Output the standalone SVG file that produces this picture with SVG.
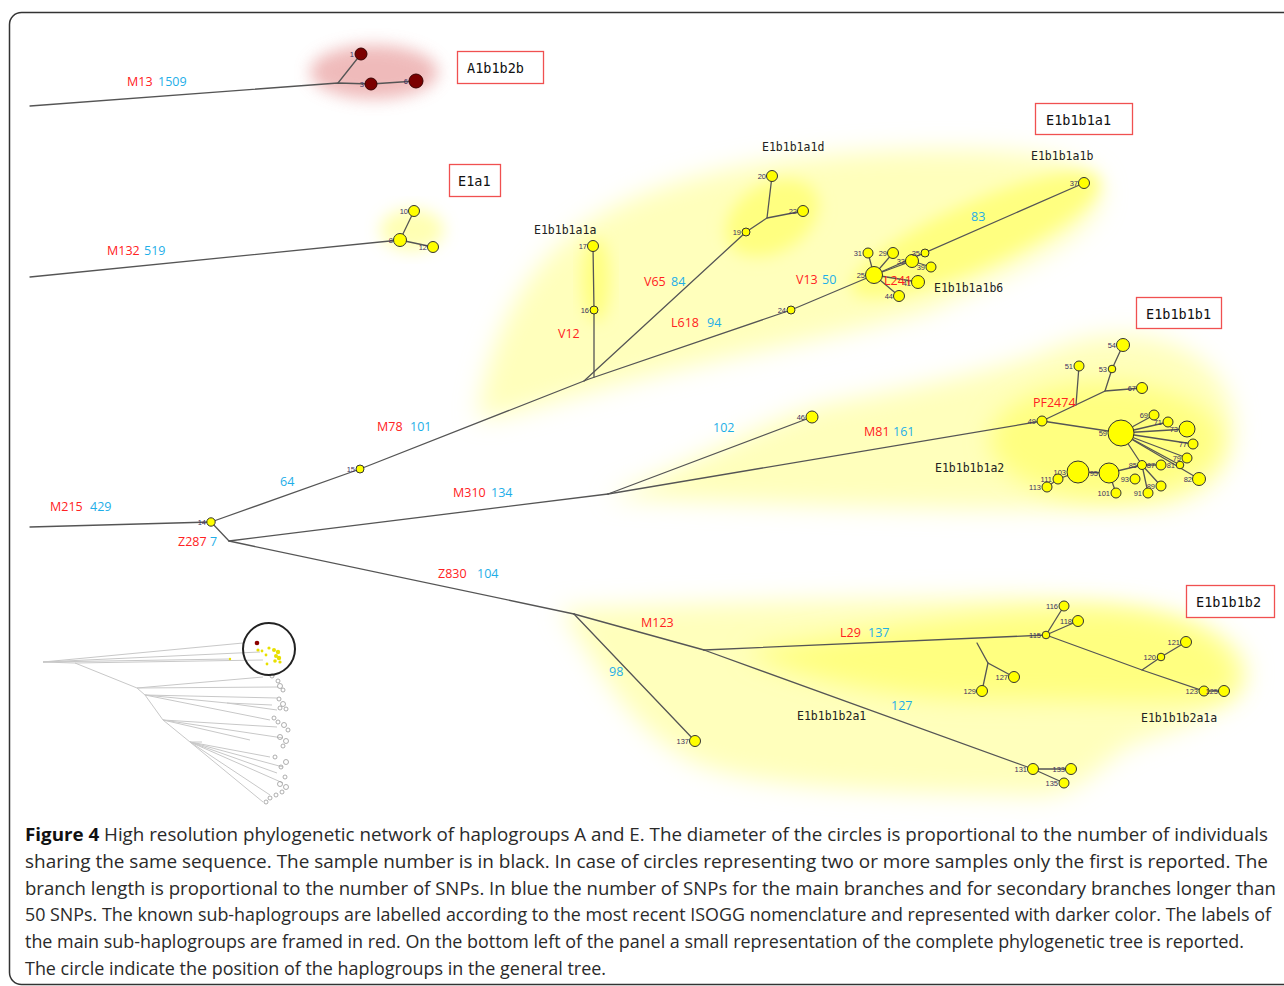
<svg xmlns="http://www.w3.org/2000/svg" width="1284" height="986" viewBox="0 0 1284 986">
  <style>
    .br { stroke: #555; stroke-width: 1.3; fill: none; stroke-linecap: round; }
    .nd { fill: #ffff00; stroke: #333; stroke-width: 1; }
    .nr { fill: #7b0000; stroke: #3a0000; stroke-width: 1; }
    .num { font-family: "Liberation Sans", Arial, sans-serif; font-size: 7.5px; fill: #3d3060; text-anchor: end; }
    .mk { font-family: "Open Sans", "Liberation Sans", sans-serif; font-size: 12.5px; fill: #ff2222; }
    .cnt { font-family: "Open Sans", "Liberation Sans", sans-serif; font-size: 12.5px; fill: #1eaee8; }
    .hg { font-family: "DejaVu Sans Mono", "Liberation Mono", monospace; font-size: 11.5px; fill: #222; }
    .box rect { fill: #fff; stroke: #f05050; stroke-width: 1.3; }
    .box text { font-family: "DejaVu Sans Mono", "Liberation Mono", monospace; font-size: 13.5px; fill: #111; }
    .cap { font-family: "Open Sans", "Liberation Sans", sans-serif; font-size: 18px; fill: #2a2a2a; }
    .thumb { stroke: #c8c8c8; stroke-width: 1; fill: none; }
    .tc { fill: none; stroke: #9a9a9a; stroke-width: 0.8; }
  </style>
  <defs>
    <filter id="haze" x="-30%" y="-30%" width="160%" height="160%">
      <feGaussianBlur stdDeviation="12"/>
    </filter>
    <filter id="hazeSoft" x="-30%" y="-30%" width="160%" height="160%">
      <feGaussianBlur stdDeviation="8"/>
    </filter>
  </defs>

  <rect width="1284" height="986" fill="#fff"/>
  <!-- panel frame -->
  <rect x="9.5" y="12.5" width="1300" height="972" rx="12" fill="none" stroke="#333" stroke-width="1.5"/>

  <!-- shaded haplogroup areas -->
  <g id="areas">
    <ellipse cx="374" cy="72" rx="64" ry="27" fill="#eaa4a4" opacity="0.75" filter="url(#hazeSoft)"/>
    <ellipse cx="412" cy="230" rx="32" ry="21" fill="#ffffa0" opacity="0.8" filter="url(#hazeSoft)"/>

    <path d="M478,418 C490,330 530,255 600,215 C680,170 800,150 950,150 C1060,150 1110,168 1100,200 C1090,240 1010,272 930,310 C850,335 700,360 590,392 C540,405 500,418 478,418 Z" fill="#ffffbc" filter="url(#haze)"/>
    <ellipse cx="596" cy="280" rx="14" ry="42" fill="#ffff80" filter="url(#hazeSoft)"/>
    <ellipse cx="772" cy="218" rx="50" ry="34" transform="rotate(-30 772 218)" fill="#ffff80" filter="url(#hazeSoft)"/>
    <ellipse cx="975" cy="235" rx="135" ry="32" transform="rotate(-24 975 235)" fill="#ffff80" filter="url(#hazeSoft)"/>

    <path d="M608,497 C700,462 760,422 822,405 C900,390 1000,372 1060,346 C1130,322 1200,340 1225,390 C1245,440 1232,500 1150,508 C1000,512 800,506 608,497 Z" fill="#ffffbc" filter="url(#haze)"/>
    <ellipse cx="1105" cy="440" rx="115" ry="58" fill="#ffff80" filter="url(#haze)"/>

    <path d="M560,610 C650,605 800,600 950,598 C1100,594 1220,610 1245,660 C1260,700 1200,722 1130,745 C1090,770 1080,800 1020,795 C900,792 750,790 690,760 C620,722 592,652 560,610 Z" fill="#ffffbc" filter="url(#haze)"/>
    <path d="M745,652 C850,632 1000,608 1100,610 C1200,614 1240,650 1235,688 C1222,708 1100,700 1000,700 C900,700 800,680 745,652 Z" fill="#ffff80" filter="url(#haze)"/>
  </g>

  <!-- branches -->
  <g id="connectors">
    <!-- A1b1b2b -->
    <polyline class="br" points="30,106 338,83 371,84 416,81"/>
    <line class="br" x1="338" y1="83" x2="361" y2="54"/>
    <!-- E1a1 -->
    <line class="br" x1="30" y1="277" x2="400" y2="240"/>
    <line class="br" x1="400" y1="240" x2="414" y2="211"/>
    <line class="br" x1="400" y1="240" x2="433" y2="247"/>
    <!-- trunk -->
    <line class="br" x1="30" y1="527" x2="211" y2="522"/>
    <polyline class="br" points="211,522 360,469 589,379 791,310 874,275"/>
    <line class="br" x1="211" y1="522" x2="229" y2="541"/>
    <!-- V12 / V65 -->
    <polyline class="br" points="594,377 594,310 593,246"/>
    <line class="br" x1="584" y1="381" x2="746" y2="232"/>
    <polyline class="br" points="746,232 767,218 772,176"/>
    <line class="br" x1="767" y1="218" x2="803" y2="211"/>
    <!-- node 25 star -->
    <line class="br" x1="874" y1="275" x2="1084" y2="183"/>
    <line class="br" x1="874" y1="275" x2="868" y2="253"/>
    <line class="br" x1="874" y1="275" x2="893" y2="253"/>
    <line class="br" x1="874" y1="275" x2="912" y2="261"/>
    <line class="br" x1="912" y1="261" x2="931" y2="267"/>
    <line class="br" x1="874" y1="275" x2="918" y2="282"/>
    <line class="br" x1="874" y1="275" x2="899" y2="296"/>
    <!-- M310 / M81 -->
    <line class="br" x1="229" y1="541" x2="608" y2="494"/>
    <line class="br" x1="608" y1="494" x2="812" y2="417"/>
    <line class="br" x1="608" y1="494" x2="1042" y2="421"/>
    <line class="br" x1="1042" y1="421" x2="1121" y2="433"/>
    <polyline class="br" points="1042,421 1105,391 1112,369 1123,345"/>
    <line class="br" x1="1105" y1="391" x2="1142" y2="388"/>
    <line class="br" x1="1076" y1="405" x2="1079" y2="366"/>
    <line class="br" x1="1121" y1="433" x2="1154" y2="415"/>
    <line class="br" x1="1121" y1="433" x2="1168" y2="422"/>
    <line class="br" x1="1121" y1="433" x2="1187" y2="429"/>
    <line class="br" x1="1121" y1="433" x2="1193" y2="444"/>
    <line class="br" x1="1121" y1="433" x2="1187" y2="458"/>
    <line class="br" x1="1121" y1="433" x2="1180" y2="465"/>
    <line class="br" x1="1121" y1="433" x2="1199" y2="479"/>
    <line class="br" x1="1121" y1="433" x2="1142" y2="465"/>
    <line class="br" x1="1142" y1="465" x2="1161" y2="465"/>
    <line class="br" x1="1142" y1="465" x2="1161" y2="486"/>
    <line class="br" x1="1142" y1="465" x2="1148" y2="493"/>
    <polyline class="br" points="1142,465 1109,473 1078,472 1058,479 1047,487"/>
    <line class="br" x1="1109" y1="473" x2="1116" y2="493"/>
    <!-- Z830 / M123 -->
    <line class="br" x1="229" y1="541" x2="574" y2="614"/>
    <line class="br" x1="574" y1="614" x2="695" y2="741"/>
    <line class="br" x1="574" y1="614" x2="704" y2="650"/>
    <line class="br" x1="704" y1="650" x2="1046" y2="635"/>
    <line class="br" x1="704" y1="650" x2="1033" y2="769"/>
    <line class="br" x1="1033" y1="769" x2="1071" y2="769"/>
    <line class="br" x1="1033" y1="769" x2="1064" y2="783"/>
    <polyline class="br" points="977,643 988,663 1014,677"/>
    <line class="br" x1="988" y1="663" x2="982" y2="691"/>
    <line class="br" x1="1046" y1="635" x2="1064" y2="606"/>
    <line class="br" x1="1046" y1="635" x2="1078" y2="621"/>
    <polyline class="br" points="1046,635 1142,670 1204,691 1224,691"/>
    <polyline class="br" points="1142,670 1161,657 1186,642"/>
  </g>

  <!-- haplotype nodes -->
  <g id="nodes-A">
    <g id="n1"><circle class="nr" cx="361" cy="54" r="6"/><text class="num" x="354" y="57">1</text></g>
    <g id="n3"><circle class="nr" cx="371" cy="84" r="6"/><text class="num" x="364" y="87">3</text></g>
    <g id="n6"><circle class="nr" cx="416" cy="81" r="7"/><text class="num" x="408" y="84">6</text></g>
  </g>
  <g id="nodes-E1a1">
    <g id="n8"><circle class="nd" cx="400" cy="240" r="6.5"/><text class="num" x="393" y="243">8</text></g>
    <g id="n10"><circle class="nd" cx="414" cy="211" r="5.5"/><text class="num" x="408" y="214">10</text></g>
    <g id="n12"><circle class="nd" cx="433" cy="247" r="5.5"/><text class="num" x="427" y="250">12</text></g>
  </g>
  <g id="nodes-E1b1b1a">
    <g id="n14"><circle class="nd" cx="211" cy="522" r="4.2"/><text class="num" x="206" y="525">14</text></g>
    <g id="n15"><circle class="nd" cx="360" cy="469" r="4"/><text class="num" x="355" y="472">15</text></g>
    <g id="n16"><circle class="nd" cx="594" cy="310" r="4"/><text class="num" x="589" y="313">16</text></g>
    <g id="n17"><circle class="nd" cx="593" cy="246" r="5.5"/><text class="num" x="587" y="249">17</text></g>
    <g id="n19"><circle class="nd" cx="746" cy="232" r="4"/><text class="num" x="741" y="235">19</text></g>
    <g id="n20"><circle class="nd" cx="772" cy="176" r="5.5"/><text class="num" x="766" y="179">20</text></g>
    <g id="n22"><circle class="nd" cx="803" cy="211" r="5.5"/><text class="num" x="797" y="214">22</text></g>
    <g id="n24"><circle class="nd" cx="791" cy="310" r="4"/><text class="num" x="786" y="313">24</text></g>
    <g id="n31"><circle class="nd" cx="868" cy="253" r="5"/><text class="num" x="862" y="256">31</text></g>
    <g id="n29"><circle class="nd" cx="893" cy="253" r="5.5"/><text class="num" x="887" y="256">29</text></g>
    <g id="n25"><circle class="nd" cx="874" cy="275" r="8.5"/><text class="num" x="865" y="278">25</text></g>
    <g id="n33"><circle class="nd" cx="912" cy="261" r="6.5"/><text class="num" x="905" y="264">33</text></g>
    <g id="n35"><circle class="nd" cx="925" cy="253" r="4"/><text class="num" x="920" y="256">35</text></g>
    <g id="n39"><circle class="nd" cx="931" cy="267" r="5"/><text class="num" x="925" y="270">39</text></g>
    <g id="n41"><text class="num" x="911" y="286">41</text><circle class="nd" cx="918" cy="282" r="6.5"/></g>
    <g id="n44"><circle class="nd" cx="899" cy="296" r="5.5"/><text class="num" x="893" y="299">44</text></g>
    <g id="n37"><circle class="nd" cx="1084" cy="183" r="5.5"/><text class="num" x="1078" y="186">37</text></g>
  </g>
  <g id="nodes-E1b1b1b1">
    <g id="n46"><circle class="nd" cx="812" cy="417" r="6"/><text class="num" x="805" y="420">46</text></g>
    <g id="n49"><circle class="nd" cx="1042" cy="421" r="5"/><text class="num" x="1036" y="424">49</text></g>
    <g id="n51"><circle class="nd" cx="1079" cy="366" r="5"/><text class="num" x="1073" y="369">51</text></g>
    <g id="n53"><circle class="nd" cx="1112" cy="369" r="3.8"/><text class="num" x="1107" y="372">53</text></g>
    <g id="n54"><circle class="nd" cx="1123" cy="345" r="6.5"/><text class="num" x="1116" y="348">54</text></g>
    <g id="n67"><circle class="nd" cx="1142" cy="388" r="5.5"/><text class="num" x="1136" y="391">67</text></g>
    <g id="n59"><circle class="nd" cx="1121" cy="433" r="13"/><text class="num" x="1107" y="436">59</text></g>
    <g id="n69"><circle class="nd" cx="1154" cy="415" r="5"/><text class="num" x="1148" y="418">69</text></g>
    <g id="n71"><circle class="nd" cx="1168" cy="422" r="5"/><text class="num" x="1162" y="425">71</text></g>
    <g id="n73"><circle class="nd" cx="1187" cy="429" r="8"/><text class="num" x="1178" y="432">73</text></g>
    <g id="n77"><circle class="nd" cx="1193" cy="444" r="5"/><text class="num" x="1187" y="447">77</text></g>
    <g id="n79"><circle class="nd" cx="1187" cy="458" r="5"/><text class="num" x="1181" y="461">79</text></g>
    <g id="n81"><circle class="nd" cx="1180" cy="465" r="3.8"/><text class="num" x="1175" y="468">81</text></g>
    <g id="n82"><circle class="nd" cx="1199" cy="479" r="6.5"/><text class="num" x="1192" y="482">82</text></g>
    <g id="n85"><circle class="nd" cx="1142" cy="465" r="4.5"/><text class="num" x="1137" y="468">85</text></g>
    <g id="n87"><circle class="nd" cx="1161" cy="465" r="5"/><text class="num" x="1155" y="468">87</text></g>
    <g id="n89"><circle class="nd" cx="1161" cy="486" r="5"/><text class="num" x="1155" y="489">89</text></g>
    <g id="n91"><circle class="nd" cx="1148" cy="493" r="5"/><text class="num" x="1142" y="496">91</text></g>
    <g id="n93"><circle class="nd" cx="1135" cy="479" r="5"/><text class="num" x="1129" y="482">93</text></g>
    <g id="n95"><circle class="nd" cx="1109" cy="473" r="10"/><text class="num" x="1098" y="476">95</text></g>
    <g id="n101"><circle class="nd" cx="1116" cy="493" r="5"/><text class="num" x="1110" y="496">101</text></g>
    <g id="n103"><circle class="nd" cx="1078" cy="472" r="11"/><text class="num" x="1066" y="475">103</text></g>
    <g id="n111"><circle class="nd" cx="1058" cy="479" r="5"/><text class="num" x="1052" y="482">111</text></g>
    <g id="n113"><circle class="nd" cx="1047" cy="487" r="5"/><text class="num" x="1041" y="490">113</text></g>
  </g>
  <g id="nodes-E1b1b1b2">
    <g id="n137"><circle class="nd" cx="695" cy="741" r="5.5"/><text class="num" x="689" y="744">137</text></g>
    <g id="n115"><circle class="nd" cx="1046" cy="635" r="3.8"/><text class="num" x="1041" y="638">115</text></g>
    <g id="n116"><circle class="nd" cx="1064" cy="606" r="5"/><text class="num" x="1058" y="609">116</text></g>
    <g id="n118"><circle class="nd" cx="1078" cy="621" r="5.5"/><text class="num" x="1072" y="624">118</text></g>
    <g id="n127"><circle class="nd" cx="1014" cy="677" r="5.5"/><text class="num" x="1008" y="680">127</text></g>
    <g id="n129"><circle class="nd" cx="982" cy="691" r="5.5"/><text class="num" x="976" y="694">129</text></g>
    <g id="n120"><circle class="nd" cx="1161" cy="657" r="3.8"/><text class="num" x="1156" y="660">120</text></g>
    <g id="n121"><circle class="nd" cx="1186" cy="642" r="5.5"/><text class="num" x="1180" y="645">121</text></g>
    <g id="n123"><circle class="nd" cx="1204" cy="691" r="5"/><text class="num" x="1198" y="694">123</text></g>
    <g id="n125"><circle class="nd" cx="1224" cy="691" r="5.5"/><text class="num" x="1218" y="694">125</text></g>
    <g id="n131"><circle class="nd" cx="1033" cy="769" r="5.5"/><text class="num" x="1027" y="772">131</text></g>
    <g id="n133"><circle class="nd" cx="1071" cy="769" r="5.5"/><text class="num" x="1065" y="772">133</text></g>
    <g id="n135"><circle class="nd" cx="1064" cy="783" r="5"/><text class="num" x="1058" y="786">135</text></g>
  </g>

  <!-- branch markers (red) and SNP counts (blue) -->
  <g id="branch-labels">
    <text class="mk" x="127" y="86">M13</text><text class="cnt" x="158" y="86">1509</text>
    <text class="mk" x="107" y="255">M132</text><text class="cnt" x="144" y="255">519</text>
    <text class="mk" x="50" y="511">M215</text><text class="cnt" x="90" y="511">429</text>
    <text class="mk" x="178" y="546">Z287</text><text class="cnt" x="210" y="546">7</text>
    <text class="cnt" x="280" y="486">64</text>
    <text class="mk" x="377" y="431">M78</text><text class="cnt" x="410" y="431">101</text>
    <text class="mk" x="453" y="497">M310</text><text class="cnt" x="491" y="497">134</text>
    <text class="mk" x="558" y="338">V12</text>
    <text class="mk" x="644" y="286">V65</text><text class="cnt" x="671" y="286">84</text>
    <text class="mk" x="671" y="327">L618</text><text class="cnt" x="707" y="327">94</text>
    <text class="mk" x="796" y="284">V13</text><text class="cnt" x="822" y="284">50</text>
    <text class="cnt" x="971" y="221">83</text>
    <text class="mk" x="884" y="285">L241</text>
    <text class="mk" x="1033" y="407">PF2474</text>
    <text class="cnt" x="713" y="432">102</text>
    <text class="mk" x="864" y="436">M81</text><text class="cnt" x="893" y="436">161</text>
    <text class="mk" x="438" y="578">Z830</text><text class="cnt" x="477" y="578">104</text>
    <text class="mk" x="641" y="627">M123</text>
    <text class="mk" x="840" y="637">L29</text><text class="cnt" x="868" y="637">137</text>
    <text class="cnt" x="609" y="676">98</text>
    <text class="cnt" x="891" y="710">127</text>
  </g>

  <!-- sub-haplogroup names -->
  <g id="subgroup-labels">
    <text class="hg" x="762" y="151">E1b1b1a1d</text>
    <text class="hg" x="534" y="234">E1b1b1a1a</text>
    <text class="hg" x="1031" y="160">E1b1b1a1b</text>
    <text class="hg" x="934" y="292">E1b1b1a1b6</text>
    <text class="hg" x="935" y="472">E1b1b1b1a2</text>
    <text class="hg" x="797" y="720">E1b1b1b2a1</text>
    <text class="hg" x="1141" y="722">E1b1b1b2a1a</text>
  </g>

  <!-- framed main sub-haplogroups -->
  <g id="box-A1b1b2b" class="box"><rect x="457.5" y="51.5" width="86" height="32"/><text x="467" y="73">A1b1b2b</text></g>
  <g id="box-E1a1" class="box"><rect x="449.5" y="164.5" width="51" height="32"/><text x="458" y="186">E1a1</text></g>
  <g id="box-E1b1b1a1" class="box"><rect x="1035.5" y="103.5" width="97" height="31"/><text x="1046" y="125">E1b1b1a1</text></g>
  <g id="box-E1b1b1b1" class="box"><rect x="1136.5" y="297.5" width="85" height="31"/><text x="1146" y="319">E1b1b1b1</text></g>
  <g id="box-E1b1b1b2" class="box"><rect x="1186.5" y="585.5" width="88" height="32"/><text x="1196" y="607">E1b1b1b2</text></g>

  <!-- overview of the complete tree -->
  <g id="overview">
    <polyline class="thumb" points="43,662 243,643"/>
    <polyline class="thumb" points="43,662 260,652"/>
    <polyline class="thumb" points="43,662 230,659"/>
    <polyline class="thumb" points="75,663 263,660"/>
    <polyline class="thumb" points="43,662 75,663 137,688 145,695 163,720 190,742 263,802"/>
    <polyline class="thumb" points="137,688 263,677"/>
    <polyline class="thumb" points="137,688 278,687"/>
    <polyline class="thumb" points="145,695 277,698"/>
    <polyline class="thumb" points="145,695 227,703 277,710"/>
    <polyline class="thumb" points="227,703 272,705"/>
    <polyline class="thumb" points="145,695 270,720"/>
    <polyline class="thumb" points="163,720 277,727"/>
    <polyline class="thumb" points="163,720 283,738"/>
    <polyline class="thumb" points="163,720 250,740"/>
    <polyline class="thumb" points="190,742 202,742"/>
    <polyline class="thumb" points="190,742 270,757"/>
    <polyline class="thumb" points="190,742 283,767"/>
    <polyline class="thumb" points="190,742 277,773"/>
    <polyline class="thumb" points="190,742 283,783"/>
    <polyline class="thumb" points="190,742 270,795"/>
    <g>
      <circle class="tc" cx="272" cy="676" r="2"/><circle class="tc" cx="278" cy="681" r="2"/>
      <circle class="tc" cx="280" cy="686" r="2.5"/><circle class="tc" cx="283" cy="690" r="2"/>
      <circle class="tc" cx="279" cy="699" r="2"/><circle class="tc" cx="283" cy="704" r="2.5"/>
      <circle class="tc" cx="280" cy="708" r="2"/><circle class="tc" cx="286" cy="709" r="2"/>
      <circle class="tc" cx="274" cy="718" r="2"/><circle class="tc" cx="278" cy="722" r="2"/>
      <circle class="tc" cx="284" cy="725" r="2.5"/><circle class="tc" cx="288" cy="730" r="2"/>
      <circle class="tc" cx="280" cy="737" r="2.5"/><circle class="tc" cx="286" cy="741" r="2.5"/>
      <circle class="tc" cx="283" cy="746" r="2"/><circle class="tc" cx="275" cy="757" r="2"/>
      <circle class="tc" cx="286" cy="762" r="2.5"/><circle class="tc" cx="281" cy="767" r="2"/>
      <circle class="tc" cx="285" cy="777" r="2"/><circle class="tc" cx="280" cy="784" r="2.5"/>
      <circle class="tc" cx="286" cy="787" r="2.5"/><circle class="tc" cx="282" cy="792" r="2"/>
      <circle class="tc" cx="276" cy="795" r="2"/><circle class="tc" cx="270" cy="798" r="2"/>
      <circle class="tc" cx="266" cy="802" r="2"/>
    </g>
    <g fill="#e8e000">
      <circle cx="258" cy="650" r="1.6"/><circle cx="262" cy="651" r="1.4"/>
      <circle cx="269" cy="648" r="1.6"/><circle cx="274" cy="650" r="2"/>
      <circle cx="278" cy="652" r="2.2"/><circle cx="276" cy="656" r="2"/>
      <circle cx="279" cy="658" r="2.2"/><circle cx="275" cy="661" r="1.8"/>
      <circle cx="280" cy="662" r="1.6"/><circle cx="266" cy="655" r="1.4"/>
      <circle cx="267" cy="664" r="1.4"/><circle cx="230" cy="659" r="1.2"/>
    </g>
    <circle cx="257" cy="643" r="2.3" fill="#8b0000"/>
    <circle cx="269" cy="649" r="26" fill="none" stroke="#222" stroke-width="2"/>
  </g>

  <!-- caption -->
  <g id="caption" class="cap">
    <text x="25" y="841" textLength="1243" lengthAdjust="spacingAndGlyphs"><tspan font-weight="bold" fill="#111">Figure 4</tspan> High resolution phylogenetic network of haplogroups A and E. The diameter of the circles is proportional to the number of individuals</text>
    <text x="25" y="868" textLength="1243" lengthAdjust="spacingAndGlyphs">sharing the same sequence. The sample number is in black. In case of circles representing two or more samples only the first is reported. The</text>
    <text x="25" y="895" textLength="1251" lengthAdjust="spacingAndGlyphs">branch length is proportional to the number of SNPs. In blue the number of SNPs for the main branches and for secondary branches longer than</text>
    <text x="25" y="921" textLength="1246" lengthAdjust="spacingAndGlyphs">50 SNPs. The known sub-haplogroups are labelled according to the most recent ISOGG nomenclature and represented with darker color. The labels of</text>
    <text x="25" y="948" textLength="1219" lengthAdjust="spacingAndGlyphs">the main sub-haplogroups are framed in red. On the bottom left of the panel a small representation of the complete phylogenetic tree is reported.</text>
    <text x="25" y="975" textLength="581" lengthAdjust="spacingAndGlyphs">The circle indicate the position of the haplogroups in the general tree.</text>
  </g>
</svg>
